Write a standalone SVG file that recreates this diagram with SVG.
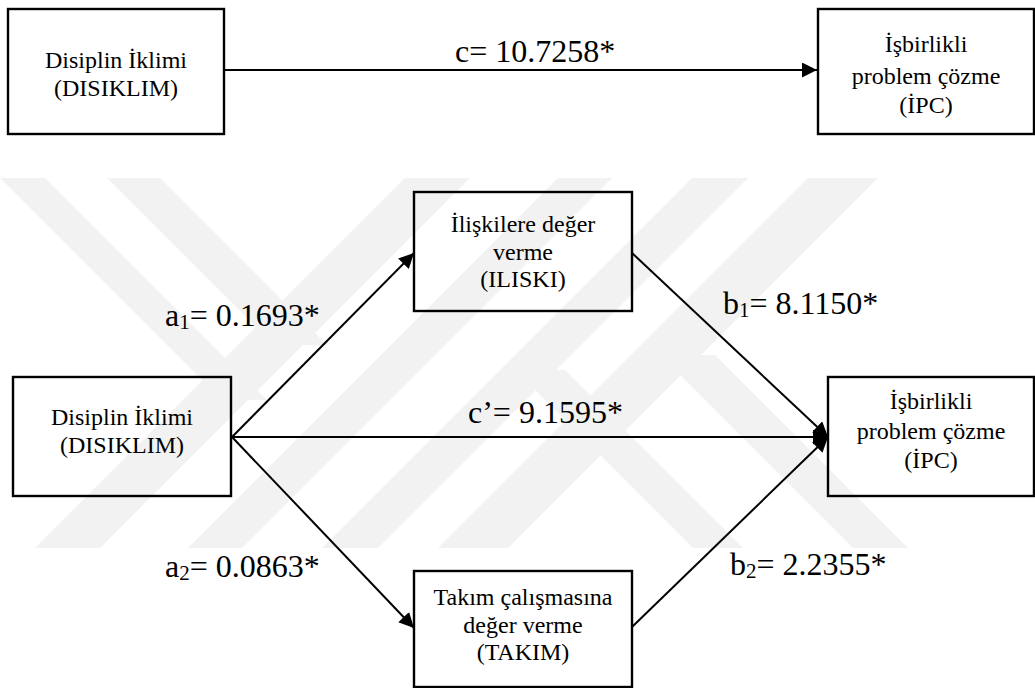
<svg xmlns="http://www.w3.org/2000/svg" width="1035" height="688" viewBox="0 0 1035 688">
  <style>
    .box { fill: none; stroke: #000; stroke-width: 2.4; }
    .node-text { font-family: 'Liberation Serif', 'Times New Roman', serif; font-size: 24px; fill: #000; text-anchor: middle; }
    .label { font-family: 'Liberation Serif', 'Times New Roman', serif; font-size: 32px; fill: #000; }
    .sub { font-size: 21px; }
    .edge { fill: none; stroke: #000; stroke-width: 2; marker-end: url(#arrow); }
    .mark { fill: #f2f2f2; }
  </style>
  <defs>
    <marker id="arrow" markerUnits="userSpaceOnUse" markerWidth="16" markerHeight="15" refX="15" refY="7.5" orient="auto">
      <path d="M0,0 L15,7.5 L0,15 Z" fill="#000"/>
    </marker>
  </defs>

  <rect width="1035" height="688" fill="#fff"/>

  <!-- faint background emblem of diagonal bands -->
  <g id="emblem">
    <polygon class="mark" points="405,178 470,178 100,548 35,548"/>
    <polygon class="mark" points="558,178 612,178 242,548 188,548"/>
    <polygon class="mark" points="692,178 748,178 378,548 322,548"/>
    <polygon class="mark" points="808,178 878,178 508,548 438,548"/>
    <polygon class="mark" points="107,178 160,178 327,345 274,345"/>
    <polygon class="mark" points="0,178 45,178 267,400 222,400"/>
    <polygon class="mark" points="660,355 715,355 908,548 853,548"/>
    <polygon class="mark" points="515,370 565,370 743,548 693,548"/>
  </g>

  <!-- connectors -->
  <g id="connectors">
    <line class="edge" x1="224" y1="70" x2="817" y2="70"/>
    <line class="edge" x1="232" y1="437" x2="414" y2="253"/>
    <line class="edge" x1="232" y1="437" x2="828" y2="437"/>
    <line class="edge" x1="232" y1="437" x2="414" y2="628"/>
    <line class="edge" x1="632" y1="253" x2="828" y2="437"/>
    <line class="edge" x1="632" y1="627" x2="828" y2="437"/>
  </g>

  <!-- path coefficients -->
  <g id="labels" font-family="'Liberation Serif', 'Times New Roman', serif">
    <text class="label" x="455" y="62">c= 10.7258*</text>
    <text class="label" x="165" y="326">a<tspan class="sub" dy="3">1</tspan><tspan dy="-3">= 0.1693*</tspan></text>
    <text class="label" x="165" y="577">a<tspan class="sub" dy="3">2</tspan><tspan dy="-3">= 0.0863*</tspan></text>
    <text class="label" x="468" y="423">c’= 9.1595*</text>
    <text class="label" x="723" y="314">b<tspan class="sub" dy="3">1</tspan><tspan dy="-3">= 8.1150*</tspan></text>
    <text class="label" x="730" y="575">b<tspan class="sub" dy="3">2</tspan><tspan dy="-3">= 2.2355*</tspan></text>
  </g>

  <g id="nodes" font-family="'Liberation Serif', 'Times New Roman', serif">
    <!-- total effect model -->
    <g id="node-disiklim-top">
      <rect class="box" x="8" y="9" width="216" height="125"/>
      <text class="node-text" x="116" y="68">Disiplin İklimi</text>
      <text class="node-text" x="116" y="96">(DISIKLIM)</text>
    </g>
    <g id="node-ipc-top">
      <rect class="box" x="818" y="9" width="216" height="125"/>
      <text class="node-text" x="926" y="52">İşbirlikli</text>
      <text class="node-text" x="926" y="84">problem çözme</text>
      <text class="node-text" x="926" y="113">(İPC)</text>
    </g>

    <!-- mediation model -->
    <g id="node-disiklim">
      <rect class="box" x="13" y="377" width="218" height="119"/>
      <text class="node-text" x="122" y="425">Disiplin İklimi</text>
      <text class="node-text" x="122" y="453">(DISIKLIM)</text>
    </g>
    <g id="node-iliski">
      <rect class="box" x="414" y="192" width="218" height="119"/>
      <text class="node-text" x="523" y="232">İlişkilere değer</text>
      <text class="node-text" x="523" y="260">verme</text>
      <text class="node-text" x="523" y="287">(ILISKI)</text>
    </g>
    <g id="node-takim">
      <rect class="box" x="414" y="571" width="218" height="116"/>
      <text class="node-text" x="523" y="605">Takım çalışmasına</text>
      <text class="node-text" x="523" y="633">değer verme</text>
      <text class="node-text" x="523" y="660">(TAKIM)</text>
    </g>
    <g id="node-ipc">
      <rect class="box" x="828" y="377" width="206" height="119"/>
      <text class="node-text" x="931" y="409">İşbirlikli</text>
      <text class="node-text" x="931" y="439">problem çözme</text>
      <text class="node-text" x="931" y="468">(İPC)</text>
    </g>
  </g>
</svg>
